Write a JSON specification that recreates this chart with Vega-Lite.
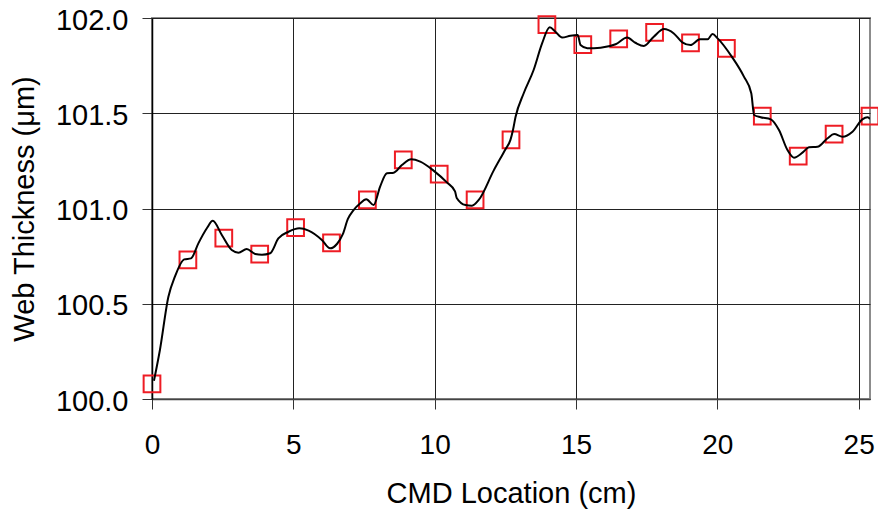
{
  "$schema": "https://vega.github.io/schema/vega-lite/v6.json",
  "width": 718,
  "height": 381,
  "autosize": {"type": "none"},
  "padding": {"left": 152, "top": 18, "right": 8, "bottom": 115},
  "background": "white",
  "config": {
    "view": {"stroke": "#8c8c8c", "strokeWidth": 2},
    "font": "Liberation Sans",
    "axis": {
      "grid": true,
      "gridColor": "#222222",
      "gridOpacity": 1,
      "gridWidth": 1,
      "tickColor": "#333333",
      "tickSize": 10,
      "tickWidth": 1,
      "labelColor": "black",
      "titleColor": "black",
      "titleFontWeight": "normal",
      "labelFlush": false,
      "labelFont": "Liberation Sans",
      "titleFont": "Liberation Sans"
    }
  },
  "datasets": {
    "markers": [
      {"x": 0, "y": 100.08},
      {"x": 1.27, "y": 100.73},
      {"x": 2.54, "y": 100.845},
      {"x": 3.81, "y": 100.76},
      {"x": 5.08, "y": 100.9},
      {"x": 6.35, "y": 100.82},
      {"x": 7.62, "y": 101.045},
      {"x": 8.89, "y": 101.255},
      {"x": 10.16, "y": 101.18},
      {"x": 11.43, "y": 101.045},
      {"x": 12.7, "y": 101.36},
      {"x": 13.97, "y": 101.965},
      {"x": 15.24, "y": 101.86},
      {"x": 16.51, "y": 101.89},
      {"x": 17.78, "y": 101.925},
      {"x": 19.05, "y": 101.87},
      {"x": 20.32, "y": 101.84},
      {"x": 21.59, "y": 101.485},
      {"x": 22.86, "y": 101.275},
      {"x": 24.13, "y": 101.39},
      {"x": 25.4, "y": 101.485}
    ],
    "curve": [
      {"x": 0.07, "y": 100.096},
      {"x": 0.28, "y": 100.257},
      {"x": 0.58, "y": 100.537},
      {"x": 0.81, "y": 100.642},
      {"x": 1.14, "y": 100.733},
      {"x": 1.38, "y": 100.738},
      {"x": 1.64, "y": 100.817},
      {"x": 1.94, "y": 100.896},
      {"x": 2.15, "y": 100.936},
      {"x": 2.47, "y": 100.861},
      {"x": 2.82, "y": 100.782},
      {"x": 3.06, "y": 100.768},
      {"x": 3.35, "y": 100.787},
      {"x": 3.65, "y": 100.761},
      {"x": 3.89, "y": 100.757},
      {"x": 4.18, "y": 100.765},
      {"x": 4.47, "y": 100.843},
      {"x": 4.83, "y": 100.878},
      {"x": 5.21, "y": 100.896},
      {"x": 5.54, "y": 100.884},
      {"x": 6.01, "y": 100.835},
      {"x": 6.3, "y": 100.791},
      {"x": 6.55, "y": 100.815},
      {"x": 6.75, "y": 100.865},
      {"x": 6.93, "y": 100.945},
      {"x": 7.13, "y": 100.992},
      {"x": 7.35, "y": 101.025},
      {"x": 7.58, "y": 101.048},
      {"x": 7.84, "y": 101.018},
      {"x": 8.07, "y": 101.115},
      {"x": 8.31, "y": 101.185},
      {"x": 8.55, "y": 101.188},
      {"x": 8.84, "y": 101.228},
      {"x": 9.17, "y": 101.258},
      {"x": 9.49, "y": 101.246},
      {"x": 9.96, "y": 101.199},
      {"x": 10.44, "y": 101.136},
      {"x": 10.72, "y": 101.09},
      {"x": 10.78, "y": 101.055},
      {"x": 11.09, "y": 101.018},
      {"x": 11.32, "y": 101.015},
      {"x": 11.56, "y": 101.045},
      {"x": 12.09, "y": 101.2},
      {"x": 12.5, "y": 101.31},
      {"x": 12.68, "y": 101.36},
      {"x": 12.77, "y": 101.412},
      {"x": 12.86, "y": 101.48},
      {"x": 13.15, "y": 101.605},
      {"x": 13.5, "y": 101.727},
      {"x": 13.8, "y": 101.867},
      {"x": 14.07, "y": 101.951},
      {"x": 14.27, "y": 101.928},
      {"x": 14.51, "y": 101.897},
      {"x": 14.8, "y": 101.907},
      {"x": 15.06, "y": 101.911},
      {"x": 15.16, "y": 101.858},
      {"x": 15.4, "y": 101.841},
      {"x": 15.87, "y": 101.844},
      {"x": 16.4, "y": 101.862},
      {"x": 16.81, "y": 101.897},
      {"x": 17.1, "y": 101.87},
      {"x": 17.4, "y": 101.853},
      {"x": 17.75, "y": 101.902},
      {"x": 18.11, "y": 101.942},
      {"x": 18.46, "y": 101.919},
      {"x": 18.76, "y": 101.872},
      {"x": 19.05, "y": 101.858},
      {"x": 19.38, "y": 101.888},
      {"x": 19.65, "y": 101.888},
      {"x": 19.83, "y": 101.916},
      {"x": 20.01, "y": 101.893},
      {"x": 20.51, "y": 101.797},
      {"x": 20.94, "y": 101.692},
      {"x": 21.2, "y": 101.605},
      {"x": 21.3, "y": 101.491},
      {"x": 21.53, "y": 101.479},
      {"x": 21.89, "y": 101.468},
      {"x": 22.18, "y": 101.412},
      {"x": 22.48, "y": 101.307},
      {"x": 22.71, "y": 101.267},
      {"x": 23.01, "y": 101.293},
      {"x": 23.24, "y": 101.321},
      {"x": 23.54, "y": 101.324},
      {"x": 23.9, "y": 101.369},
      {"x": 24.13, "y": 101.391},
      {"x": 24.43, "y": 101.377},
      {"x": 24.78, "y": 101.403},
      {"x": 25.13, "y": 101.468},
      {"x": 25.31, "y": 101.479},
      {"x": 25.4, "y": 101.47}
    ]
  },
  "layer": [
    {
      "data": {"name": "markers"},
      "mark": {"type": "point", "shape": "square", "size": 280, "filled": false, "stroke": "#ee1c24", "strokeWidth": 2, "opacity": 1},
      "encoding": {
        "x": {
          "field": "x", "type": "quantitative",
          "scale": {"domain": [0, 25.4], "nice": false, "zero": false},
          "axis": {
            "title": "CMD Location (cm)",
            "values": [0, 5, 10, 15, 20, 25],
            "format": "d",
            "labelFontSize": 28,
            "labelPadding": 22,
            "titleFontSize": 29,
            "titlePadding": 20,
            "domainColor": "#444444",
            "domainWidth": 1.5
          }
        },
        "y": {
          "field": "y", "type": "quantitative",
          "scale": {"domain": [100, 102], "nice": false, "zero": false},
          "axis": {
            "title": "Web Thickness (μm)",
            "values": [100, 100.5, 101, 101.5, 102],
            "format": ".1f",
            "labelFontSize": 29,
            "labelPadding": 14,
            "labelOffset": 2,
            "titleFontSize": 29,
            "titlePadding": 16,
            "domainColor": "black",
            "domainWidth": 1.5
          }
        }
      }
    },
    {
      "data": {"name": "curve"},
      "mark": {"type": "line", "color": "black", "strokeWidth": 2, "interpolate": "monotone", "clip": true},
      "encoding": {
        "x": {"field": "x", "type": "quantitative"},
        "y": {"field": "y", "type": "quantitative"}
      }
    }
  ]
}
